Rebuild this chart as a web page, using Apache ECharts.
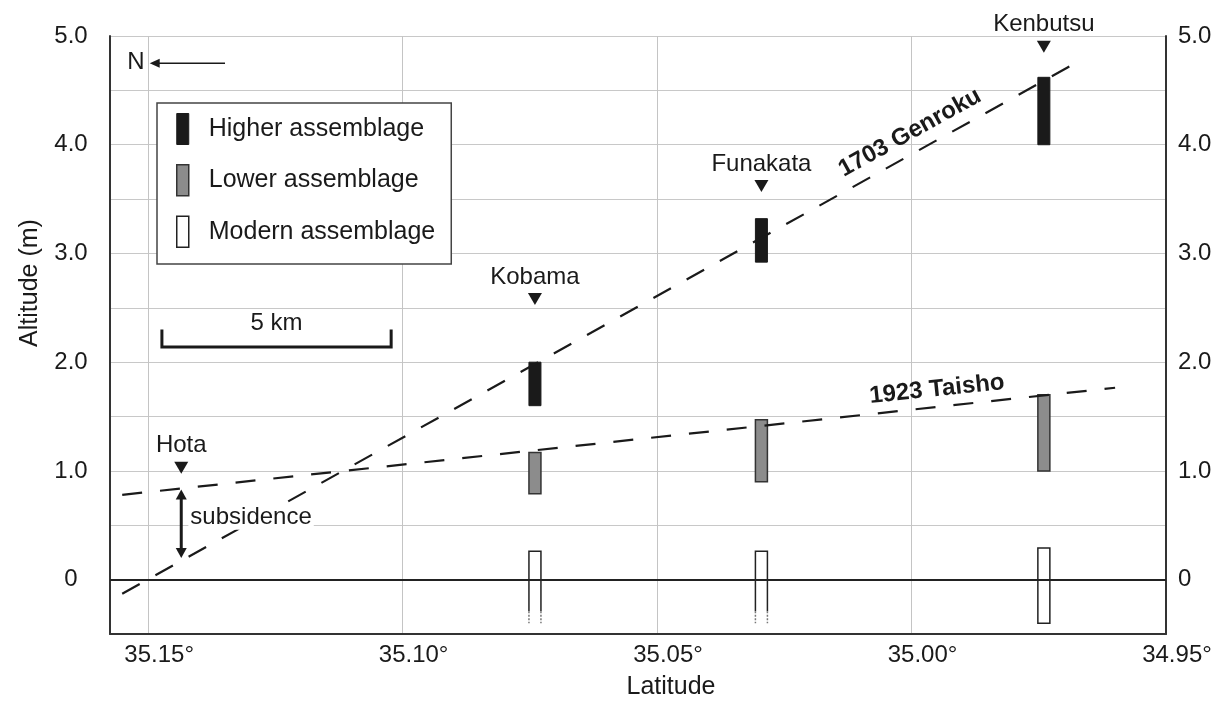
<!DOCTYPE html>
<html>
<head>
<meta charset="utf-8">
<script src="https://cdn.jsdelivr.net/npm/echarts@6/dist/echarts.min.js"></script>
<style>
  html, body { margin: 0; padding: 0; background: #fff; }
  #chart { width: 1226px; height: 702px; }
</style>
</head>
<body>
<div id="chart"></div>
<script>
  // sites along the coast (latitude, deg N) and height of their ▼ marker
  var sites = ['Hota', 'Kobama', 'Funakata', 'Kenbutsu'];
  var siteLat = [35.1435, 35.074, 35.0295, 34.974];
  var markerAlt = [1.03, 2.58, 3.62, 4.90];

  // assemblage ranges (m) at Kobama, Funakata, Kenbutsu
  var barLat = [35.074, 35.0295, 34.974];
  var higherLow = [1.60, 2.92, 4.00];
  var higherHigh = [2.00, 3.32, 4.62];
  var lowerLow = [0.79, 0.90, 1.00];
  var lowerHigh = [1.17, 1.47, 1.70];
  var modernLow = [-0.40, -0.40, -0.40];
  var modernHigh = [0.26, 0.26, 0.29];
  var modernDottedBelow = [-0.29, -0.29, null];

  // uplift of the two earthquakes
  var genrokuLat = [35.1551, 34.9663];
  var genrokuAlt = [-0.13, 4.79];
  var taishoLat = [35.1551, 34.960];
  var taishoAlt = [0.78, 1.765];

  // tick labels
  var yLabels = [0, 1, 2, 3, 4, 5];
  var xLabels = [35.15, 35.10, 35.05, 35.00, 34.95];

  var font = 'Liberation Sans, Arial, Helvetica, sans-serif';
  var ink = '#1a1a1a';

  function rows(lat, lo, hi, dot) {
    return lat.map(function (v, i) {
      return [v, lo[i], hi[i], dot && dot[i] != null ? dot[i] : '-'];
    });
  }

  function rangeBar(params, api) {
    var x = api.value(0);
    var pTop = api.coord([x, api.value(2)]);
    var pBot = api.coord([x, api.value(1)]);
    var dot = api.value(3);
    var st = api.style();
    var w = 12;
    var l = pTop[0] - w / 2, r = pTop[0] + w / 2;
    if (isNaN(dot)) {
      return {
        type: 'rect',
        shape: { x: l, y: pTop[1], width: w, height: pBot[1] - pTop[1] },
        style: { fill: st.fill, stroke: st.stroke, lineWidth: st.lineWidth }
      };
    }
    var yd = api.coord([x, dot])[1];
    return {
      type: 'group',
      children: [
        { type: 'rect', shape: { x: l, y: pTop[1], width: w, height: pBot[1] - pTop[1] }, style: { fill: '#fff' } },
        { type: 'polyline', shape: { points: [[l, yd], [l, pTop[1]], [r, pTop[1]], [r, yd]] },
          style: { fill: null, stroke: st.stroke, lineWidth: st.lineWidth } },
        { type: 'line', shape: { x1: l, y1: yd, x2: l, y2: pBot[1] },
          style: { stroke: '#777', lineWidth: st.lineWidth, lineDash: [2, 1.5] } },
        { type: 'line', shape: { x1: r, y1: yd, x2: r, y2: pBot[1] },
          style: { stroke: '#777', lineWidth: st.lineWidth, lineDash: [2, 1.5] } }
      ]
    };
  }

  var higherStyle = { color: ink, borderColor: ink, borderWidth: 1 };
  var lowerStyle = { color: '#8c8c8c', borderColor: '#333', borderWidth: 1.5 };
  var modernStyle = { color: '#fff', borderColor: '#222', borderWidth: 1.5 };

  function yLabel(v) {
    for (var i = 0; i < yLabels.length; i++) {
      if (Math.abs(v - yLabels[i]) < 1e-9) return v === 0 ? '0' : v.toFixed(1);
    }
    return '';
  }

  var chart = echarts.init(document.getElementById('chart'));
  chart.setOption({
    animation: false,
    textStyle: { fontFamily: font, color: ink },
    grid: { left: 110, right: 60, top: 36, bottom: 68 },
    legend: {
      left: 157, top: 103,
      orient: 'vertical',
      selectedMode: false,
      icon: 'rect',
      itemWidth: 12, itemHeight: 31, itemGap: 19,
      padding: [10, 16, 16, 19],
      borderColor: '#444', borderWidth: 1.5,
      backgroundColor: '#fff',
      textStyle: { fontSize: 25, color: ink, padding: [0, 0, 0, 15] },
      data: [
        { name: 'Higher assemblage', itemStyle: higherStyle },
        { name: 'Lower assemblage', itemStyle: lowerStyle },
        { name: 'Modern assemblage', itemStyle: modernStyle }
      ]
    },
    xAxis: {
      type: 'value',
      inverse: true,
      min: 34.95, max: 35.1575, interval: 0.05,
      axisLine: { onZero: false, lineStyle: { color: '#333', width: 2 } },
      axisTick: { show: false },
      splitLine: { show: true, lineStyle: { color: '#c4c4c4', width: 1 } },
      axisLabel: {
        fontSize: 24, color: ink, margin: 9, padding: [0, 0, 0, 22],
        formatter: function (v) {
          for (var i = 0; i < xLabels.length; i++) {
            if (Math.abs(v - xLabels[i]) < 1e-9) return xLabels[i].toFixed(2) + '°';
          }
          return '';
        }
      }
    },
    yAxis: [{
      type: 'value',
      min: -0.5, max: 5, interval: 0.5,
      axisLine: { show: true, onZero: false, lineStyle: { color: '#333', width: 2 } },
      axisTick: { show: false },
      splitLine: { show: true, lineStyle: { color: '#c8c8c8', width: 1 } },
      axisLabel: { fontSize: 24, color: ink, margin: 39, align: 'center', formatter: yLabel }
    }, {
      type: 'value',
      position: 'right',
      min: -0.5, max: 5, interval: 0.5,
      axisLine: { show: true, onZero: false, lineStyle: { color: '#333', width: 2 } },
      axisTick: { show: false },
      splitLine: { show: false },
      axisLabel: { fontSize: 24, color: ink, margin: 12, formatter: yLabel }
    }],
    series: [
      {
        name: 'zero', type: 'line', data: [], z: 1,
        markLine: {
          silent: true, symbol: ['none', 'none'], label: { show: false },
          lineStyle: { color: '#222', width: 2, type: 'solid' },
          data: [{ yAxis: 0 }]
        }
      },
      {
        name: 'Higher assemblage', type: 'custom', z: 3,
        itemStyle: higherStyle, renderItem: rangeBar,
        encode: { x: 0, y: [1, 2] },
        data: rows(barLat, higherLow, higherHigh)
      },
      {
        name: 'Lower assemblage', type: 'custom', z: 3,
        itemStyle: lowerStyle, renderItem: rangeBar,
        encode: { x: 0, y: [1, 2] },
        data: rows(barLat, lowerLow, lowerHigh)
      },
      {
        name: 'Modern assemblage', type: 'custom', z: 3,
        itemStyle: modernStyle, renderItem: rangeBar,
        encode: { x: 0, y: [1, 2] },
        data: rows(barLat, modernLow, modernHigh, modernDottedBelow)
      },
      {
        name: '1703 Genroku', type: 'line', z: 4, symbol: 'none',
        lineStyle: { color: ink, width: 2.2, type: [20, 18] },
        data: genrokuLat.map(function (v, i) { return [v, genrokuAlt[i]]; })
      },
      {
        name: '1923 Taisho', type: 'line', z: 4, symbol: 'none',
        lineStyle: { color: ink, width: 2.2, type: [20, 18] },
        data: taishoLat.map(function (v, i) { return [v, taishoAlt[i]]; })
      },
      {
        name: 'sites', type: 'scatter', z: 5,
        symbol: 'triangle', symbolRotate: 180, symbolSize: [14, 12],
        itemStyle: { color: ink, opacity: 1 },
        label: {
          show: true, position: 'top', distance: 4, fontSize: 24, color: ink, opacity: 1,
          formatter: function (p) { return sites[p.dataIndex]; }
        },
        data: siteLat.map(function (v, i) { return [v, markerAlt[i]]; })
      }
    ]
  });

  // annotations placed in data coordinates
  function px(lat, alt) {
    return chart.convertToPixel({ xAxisIndex: 0, yAxisIndex: 0 }, [lat, alt]);
  }
  function text(p, s, opt) {
    opt = opt || {};
    var st = {
      text: s, fill: ink, align: opt.align || 'center', verticalAlign: 'middle',
      font: (opt.bold ? 'bold ' : '') + (opt.size || 24) + 'px ' + font
    };
    if (opt.bg) { st.backgroundColor = '#fff'; st.padding = [0, 2]; }
    return { type: 'text', x: p[0], y: p[1], rotation: (opt.rot || 0) * Math.PI / 180, z: 10, style: st };
  }
  function seg(a, b, w) {
    return { type: 'line', z: 10, shape: { x1: a[0], y1: a[1], x2: b[0], y2: b[1] },
      style: { stroke: ink, lineWidth: w } };
  }
  function head(tip, dx, dy, half) {
    // arrow head with its tip at "tip", opening in direction (dx, dy)
    var nx = -dy, ny = dx;
    return { type: 'polygon', z: 10, shape: { points: [
      tip,
      [tip[0] + dx + nx * half, tip[1] + dy + ny * half],
      [tip[0] + dx - nx * half, tip[1] + dy - ny * half]
    ] }, style: { fill: ink } };
  }

  var g = [];
  // north arrow
  var nPos = px(35.1524, 4.76);
  g.push(text(nPos, 'N'));
  var aTip = px(35.1497, 4.75), aEnd = px(35.1349, 4.75);
  g.push(seg([aTip[0] + 6, aTip[1]], aEnd, 1.5));
  g.push(head(aTip, 10, 0, 0.45));

  // 5 km scale bar
  var sL = 35.1473, sR = sL - 5 / 111.0;
  var b1 = px(sL, 2.14), b2 = px(sR, 2.14), t1 = px(sL, 2.30), t2 = px(sR, 2.30);
  g.push({ type: 'polyline', z: 10, shape: { points: [t1, b1, b2, t2] },
    style: { stroke: ink, lineWidth: 3, fill: null } });
  g.push(text(px((sL + sR) / 2, 2.36), '5 km'));

  // subsidence arrow at Hota
  var sTop = px(siteLat[0], 0.83), sBot = px(siteLat[0], 0.20);
  g.push(seg([sTop[0], sTop[1] + 8], [sBot[0], sBot[1] - 8], 3));
  g.push(head(sTop, 0, 10, 0.55));
  g.push(head(sBot, 0, -10, 0.55));
  g.push(text(px(35.1421, 0.57), 'subsidence', { align: 'left', bg: true }));

  // line labels
  g.push(text(px(35.0003, 4.11), '1703 Genroku', { bold: true, rot: 29 }));
  g.push(text(px(34.995, 1.75), '1923 Taisho', { bold: true, rot: 6 }));

  // axis names
  g.push(text([671, 687], 'Latitude', { size: 25 }));
  g.push(text([30, 283], 'Altitude (m)', { size: 25, rot: 90 }));

  chart.setOption({ graphic: g });
</script>
</body>
</html>
